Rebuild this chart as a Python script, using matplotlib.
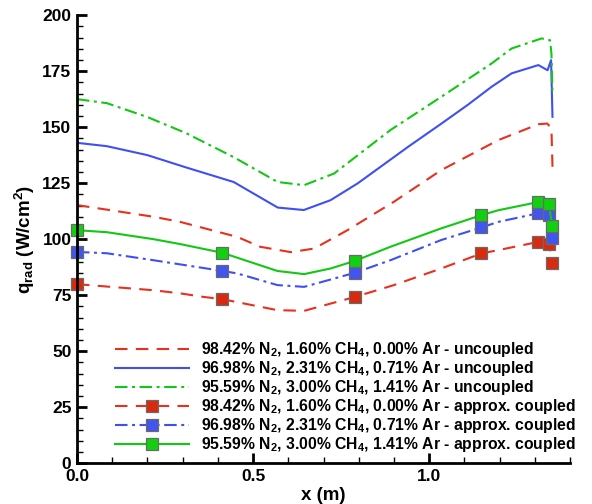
import numpy as np
import matplotlib
matplotlib.use("Agg")
import matplotlib.pyplot as plt
from matplotlib.ticker import MultipleLocator

plt.rcParams['font.family'] = ['Liberation Sans', 'DejaVu Sans']
plt.rcParams['font.weight'] = 'bold'
plt.rcParams['mathtext.default'] = 'regular'

# --- uncoupled radiative heating along the body ---
x_unc_a = [0, 0.217, 0.293, 0.455, 0.52, 0.607, 0.673, 0.768, 0.90, 1.034, 1.196, 1.31, 1.335, 1.347, 1.35]
q_unc_a = [115.2, 110, 107.7, 101, 96.6, 94.2, 95.8, 104, 116.7, 130.8, 144.2, 151.3, 151.6, 149.5, 132.3]

x_unc_b = [0, 0.085, 0.2, 0.31, 0.445, 0.57, 0.644, 0.72, 0.797, 0.94, 1.034, 1.11, 1.177, 1.234, 1.31, 1.336, 1.346, 1.350]
q_unc_b = [143, 141.5, 137.5, 132, 125.5, 114.1, 113, 117.4, 124.9, 141.2, 151.5, 160, 168, 174, 177.7, 175.4, 179.9, 154.6]

x_unc_c = [0, 0.085, 0.2, 0.31, 0.445, 0.57, 0.645, 0.73, 0.89, 1.034, 1.177, 1.234, 1.319, 1.343, 1.347, 1.350]
q_unc_c = [162.5, 160.7, 154.5, 147.3, 136.6, 125.5, 124.1, 129.3, 148.7, 163.5, 178.4, 185.1, 189.6, 188.8, 182.9, 165]

# --- approx. coupled results (squares at the solution stations) ---
x_stations = [0, 0.413, 0.789, 1.148, 1.308, 1.340, 1.349]

x_cpl_a = [0, 0.217, 0.293, 0.36, 0.413, 0.569, 0.645, 0.789, 0.90, 1.034, 1.148, 1.196, 1.308, 1.340, 1.349]
q_cpl_a = [79.9, 77.2, 75.8, 74.2, 73.2, 68.3, 68, 74.2, 79.5, 86.9, 93.6, 95.1, 98.7, 97.8, 89.4]

x_cpl_b = [0, 0.085, 0.217, 0.413, 0.455, 0.569, 0.645, 0.789, 0.89, 1.034, 1.148, 1.196, 1.308, 1.340, 1.349]
q_cpl_b = [94.3, 93.7, 90.6, 85.8, 84.7, 79.5, 78.7, 85, 90.6, 99.6, 105.2, 107.7, 111.5, 110.7, 100.7]

x_cpl_c = [0, 0.085, 0.217, 0.293, 0.413, 0.569, 0.645, 0.72, 0.789, 0.89, 1.034, 1.148, 1.196, 1.308, 1.340, 1.349]
q_cpl_c = [104, 103.1, 100, 97.8, 93.9, 85.8, 84.4, 86.9, 90.3, 96.6, 104.8, 110.7, 112.9, 116.5, 115.6, 105.8]

labels = [
    '98.42% N$_2$, 1.60% CH$_4$, 0.00% Ar - uncoupled',
    '96.98% N$_2$, 2.31% CH$_4$, 0.71% Ar - uncoupled',
    '95.59% N$_2$, 3.00% CH$_4$, 1.41% Ar - uncoupled',
    '98.42% N$_2$, 1.60% CH$_4$, 0.00% Ar - approx. coupled',
    '96.98% N$_2$, 2.31% CH$_4$, 0.71% Ar - approx. coupled',
    '95.59% N$_2$, 3.00% CH$_4$, 1.41% Ar - approx. coupled',
]

RED = '#e8301c'
BLUE = '#3f4ff2'
GREEN = '#12c812'
DASH = (0, (6, 4))
DASHDOT = (0, (6, 2.2, 1.4, 2.2))


def station_idx(xs):
    return [i for i, v in enumerate(xs) if v in x_stations]


fig = plt.figure(figsize=(5.92, 5.04), dpi=100)
ax = fig.add_axes([0.130, 0.081, 0.833, 0.889])

ax.plot(x_unc_a, q_unc_a, color=RED, lw=1.5, linestyle=DASH, label=labels[0])
ax.plot(x_unc_b, q_unc_b, color=BLUE, lw=1.5, linestyle='-', label=labels[1])
ax.plot(x_unc_c, q_unc_c, color=GREEN, lw=1.5, linestyle=DASHDOT, label=labels[2])

mk = dict(marker='s', markersize=8.5, markeredgecolor='#6a6a6a', markeredgewidth=0.9, clip_on=False)
ax.plot(x_cpl_a, q_cpl_a, color=RED, lw=1.5, linestyle=DASH, markevery=station_idx(x_cpl_a),
        markerfacecolor='#d82a0e', label=labels[3], **mk)
ax.plot(x_cpl_b, q_cpl_b, color=BLUE, lw=1.5, linestyle=DASHDOT, markevery=station_idx(x_cpl_b),
        markerfacecolor='#4255ee', label=labels[4], **mk)
ax.plot(x_cpl_c, q_cpl_c, color=GREEN, lw=1.5, linestyle='-', markevery=station_idx(x_cpl_c),
        markerfacecolor='#10d010', label=labels[5], **mk)

ax.set_xlim(0, 1.4)
ax.set_ylim(0, 200)
ax.xaxis.set_major_locator(MultipleLocator(0.5))
ax.xaxis.set_minor_locator(MultipleLocator(0.1))
ax.yaxis.set_major_locator(MultipleLocator(25))
ax.yaxis.set_minor_locator(MultipleLocator(5))
ax.xaxis.set_major_formatter(matplotlib.ticker.FormatStrFormatter('%.1f'))

for side in ('top', 'right'):
    ax.spines[side].set_visible(False)
for side in ('left', 'bottom'):
    ax.spines[side].set_linewidth(2)

ax.tick_params(which='major', direction='in', length=7, width=2, labelsize=12.5, pad=4)
ax.tick_params(which='minor', direction='in', length=4, width=1)
for t in ax.get_xticklabels() + ax.get_yticklabels():
    t.set_fontweight('bold')

ax.set_xlabel('x (m)', fontsize=13.5, fontweight='bold', labelpad=2)
ax.set_ylabel('q$_{rad}$ (W/cm$^2$)', fontsize=13.5, fontweight='bold', labelpad=4)

leg = ax.legend(loc='lower left', bbox_to_anchor=(0.078, 0.020), frameon=False,
                fontsize=11.3, handlelength=4.7, handletextpad=0.75, labelspacing=0.0,
                borderpad=0, borderaxespad=0, numpoints=1)
for t in leg.get_texts():
    t.set_fontweight('bold')

fig.savefig('out.png', dpi=100)
